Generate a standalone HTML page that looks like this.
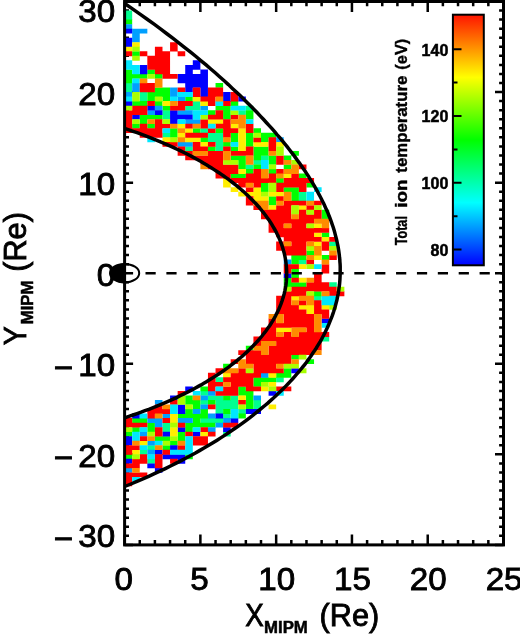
<!DOCTYPE html>
<html><head><meta charset="utf-8"><title>Total ion temperature map</title>
<style>
html,body{margin:0;padding:0;background:#fff;}
body{width:520px;height:635px;overflow:hidden;}
svg{display:block;}
text{font-family:"Liberation Sans","DejaVu Sans",sans-serif;fill:#000;}
.ax{font-size:30.7px;stroke:#000;stroke-width:0.85px;}
.sub{font-size:16.8px;font-weight:bold;stroke:#000;stroke-width:0.5px;}
.cbl{font-size:16px;font-weight:bold;stroke:#000;stroke-width:0.5px;}
.cbt{font-size:16.5px;font-weight:bold;stroke:#000;stroke-width:0.4px;}
</style></head><body>
<svg width="520" height="635" viewBox="0 0 520 635">
<defs>
<linearGradient id="cb" x1="0" y1="0" x2="0" y2="1">
<stop offset="0" stop-color="#ff1400"/>
<stop offset="0.25" stop-color="#ffff00"/>
<stop offset="0.5" stop-color="#00ff00"/>
<stop offset="0.75" stop-color="#00ffff"/>
<stop offset="1" stop-color="#0000ff"/>
</linearGradient>
<clipPath id="pc"><rect x="124.6" y="1.5" width="378.9" height="543.4"/></clipPath>
</defs>
<rect width="520" height="635" fill="#fff"/>

<path d="M124.60 544.90v-10.50M124.60 1.50v10.50M139.76 544.90v-4.80M139.76 1.50v4.80M154.91 544.90v-4.80M154.91 1.50v4.80M170.07 544.90v-4.80M170.07 1.50v4.80M185.22 544.90v-4.80M185.22 1.50v4.80M200.38 544.90v-10.50M200.38 1.50v10.50M215.54 544.90v-4.80M215.54 1.50v4.80M230.69 544.90v-4.80M230.69 1.50v4.80M245.85 544.90v-4.80M245.85 1.50v4.80M261.00 544.90v-4.80M261.00 1.50v4.80M276.16 544.90v-10.50M276.16 1.50v10.50M291.32 544.90v-4.80M291.32 1.50v4.80M306.47 544.90v-4.80M306.47 1.50v4.80M321.63 544.90v-4.80M321.63 1.50v4.80M336.78 544.90v-4.80M336.78 1.50v4.80M351.94 544.90v-10.50M351.94 1.50v10.50M367.10 544.90v-4.80M367.10 1.50v4.80M382.25 544.90v-4.80M382.25 1.50v4.80M397.41 544.90v-4.80M397.41 1.50v4.80M412.56 544.90v-4.80M412.56 1.50v4.80M427.72 544.90v-10.50M427.72 1.50v10.50M442.88 544.90v-4.80M442.88 1.50v4.80M458.03 544.90v-4.80M458.03 1.50v4.80M473.19 544.90v-4.80M473.19 1.50v4.80M488.34 544.90v-4.80M488.34 1.50v4.80M503.50 544.90v-10.50M503.50 1.50v10.50M124.60 544.90h8.50M503.50 544.90h-8.50M124.60 535.84h4.40M503.50 535.84h-4.40M124.60 526.79h4.40M503.50 526.79h-4.40M124.60 517.73h4.40M503.50 517.73h-4.40M124.60 508.67h4.40M503.50 508.67h-4.40M124.60 499.62h4.40M503.50 499.62h-4.40M124.60 490.56h4.40M503.50 490.56h-4.40M124.60 481.50h4.40M503.50 481.50h-4.40M124.60 472.45h4.40M503.50 472.45h-4.40M124.60 463.39h4.40M503.50 463.39h-4.40M124.60 454.33h8.50M503.50 454.33h-8.50M124.60 445.28h4.40M503.50 445.28h-4.40M124.60 436.22h4.40M503.50 436.22h-4.40M124.60 427.16h4.40M503.50 427.16h-4.40M124.60 418.11h4.40M503.50 418.11h-4.40M124.60 409.05h4.40M503.50 409.05h-4.40M124.60 399.99h4.40M503.50 399.99h-4.40M124.60 390.94h4.40M503.50 390.94h-4.40M124.60 381.88h4.40M503.50 381.88h-4.40M124.60 372.82h4.40M503.50 372.82h-4.40M124.60 363.77h8.50M503.50 363.77h-8.50M124.60 354.71h4.40M503.50 354.71h-4.40M124.60 345.65h4.40M503.50 345.65h-4.40M124.60 336.60h4.40M503.50 336.60h-4.40M124.60 327.54h4.40M503.50 327.54h-4.40M124.60 318.48h4.40M503.50 318.48h-4.40M124.60 309.43h4.40M503.50 309.43h-4.40M124.60 300.37h4.40M503.50 300.37h-4.40M124.60 291.31h4.40M503.50 291.31h-4.40M124.60 282.26h4.40M503.50 282.26h-4.40M124.60 273.20h8.50M503.50 273.20h-8.50M124.60 264.14h4.40M503.50 264.14h-4.40M124.60 255.09h4.40M503.50 255.09h-4.40M124.60 246.03h4.40M503.50 246.03h-4.40M124.60 236.97h4.40M503.50 236.97h-4.40M124.60 227.92h4.40M503.50 227.92h-4.40M124.60 218.86h4.40M503.50 218.86h-4.40M124.60 209.80h4.40M503.50 209.80h-4.40M124.60 200.75h4.40M503.50 200.75h-4.40M124.60 191.69h4.40M503.50 191.69h-4.40M124.60 182.63h8.50M503.50 182.63h-8.50M124.60 173.58h4.40M503.50 173.58h-4.40M124.60 164.52h4.40M503.50 164.52h-4.40M124.60 155.46h4.40M503.50 155.46h-4.40M124.60 146.41h4.40M503.50 146.41h-4.40M124.60 137.35h4.40M503.50 137.35h-4.40M124.60 128.29h4.40M503.50 128.29h-4.40M124.60 119.24h4.40M503.50 119.24h-4.40M124.60 110.18h4.40M503.50 110.18h-4.40M124.60 101.12h4.40M503.50 101.12h-4.40M124.60 92.07h8.50M503.50 92.07h-8.50M124.60 83.01h4.40M503.50 83.01h-4.40M124.60 73.95h4.40M503.50 73.95h-4.40M124.60 64.90h4.40M503.50 64.90h-4.40M124.60 55.84h4.40M503.50 55.84h-4.40M124.60 46.78h4.40M503.50 46.78h-4.40M124.60 37.73h4.40M503.50 37.73h-4.40M124.60 28.67h4.40M503.50 28.67h-4.40M124.60 19.61h4.40M503.50 19.61h-4.40M124.60 10.56h4.40M503.50 10.56h-4.40M124.60 1.50h8.50M503.50 1.50h-8.50" stroke="#000" stroke-width="2.5" fill="none"/>
<g id="cells">
<path fill="#00ff90" d="M124.60 10.56h7.58v4.83h-7.58zM124.60 15.09h7.58v4.83h-7.58zM124.60 83.01h7.58v4.83h-7.58zM124.60 87.54h7.58v4.83h-7.58zM139.76 92.07h7.58v4.83h-7.58zM139.76 96.59h7.58v4.83h-7.58zM192.80 101.12h7.58v4.83h-7.58zM185.22 105.65h15.16v4.83h-15.16zM245.85 105.65h7.58v4.83h-7.58zM162.49 110.18h7.58v4.83h-7.58zM238.27 110.18h7.58v4.83h-7.58zM162.49 114.71h7.58v4.83h-7.58zM200.38 128.29h7.58v4.83h-7.58zM162.49 132.82h7.58v4.83h-7.58zM207.96 132.82h15.16v4.83h-15.16zM207.96 137.35h15.16v4.83h-15.16zM215.54 141.88h7.58v4.83h-7.58zM185.22 146.41h7.58v4.83h-7.58zM215.54 146.41h7.58v4.83h-7.58zM261.00 155.46h7.58v4.83h-7.58zM253.43 159.99h7.58v4.83h-7.58zM245.85 164.52h7.58v4.83h-7.58zM298.89 191.69h7.58v4.83h-7.58zM298.89 196.22h7.58v4.83h-7.58zM329.21 241.50h7.58v4.83h-7.58zM298.89 259.62h7.58v4.83h-7.58zM329.21 282.26h7.58v4.83h-7.58zM314.05 295.84h7.58v4.83h-7.58zM321.63 336.60h7.58v4.83h-7.58zM215.54 377.35h7.58v4.83h-7.58zM276.16 377.35h7.58v4.83h-7.58zM200.38 390.94h7.58v4.83h-7.58zM207.96 395.46h15.16v4.83h-15.16zM230.69 395.46h7.58v4.83h-7.58zM200.38 399.99h7.58v4.83h-7.58zM215.54 399.99h22.73v4.83h-22.73zM253.43 399.99h7.58v4.83h-7.58zM215.54 404.52h22.73v4.83h-22.73zM253.43 404.52h7.58v4.83h-7.58zM215.54 409.05h7.58v4.83h-7.58zM238.27 409.05h7.58v4.83h-7.58zM223.11 413.58h7.58v4.83h-7.58zM200.38 418.11h22.73v4.83h-22.73zM162.49 422.63h7.58v4.83h-7.58zM162.49 427.16h7.58v4.83h-7.58zM223.11 431.69h7.58v4.83h-7.58zM147.33 445.28h7.58v4.83h-7.58zM139.76 449.81h7.58v4.83h-7.58zM147.33 458.86h7.58v4.83h-7.58z"/>
<path fill="#00ff00" d="M124.60 19.61h7.58v4.83h-7.58zM132.18 51.31h7.58v4.83h-7.58zM124.60 69.42h7.58v4.83h-7.58zM147.33 69.42h7.58v4.83h-7.58zM124.60 73.95h22.73v4.83h-22.73zM154.91 73.95h7.58v4.83h-7.58zM124.60 78.48h7.58v4.83h-7.58zM215.54 83.01h7.58v4.83h-7.58zM154.91 87.54h15.16v4.83h-15.16zM147.33 92.07h22.73v4.83h-22.73zM147.33 96.59h7.58v4.83h-7.58zM162.49 96.59h7.58v4.83h-7.58zM185.22 96.59h7.58v4.83h-7.58zM132.18 101.12h15.16v4.83h-15.16zM154.91 101.12h7.58v4.83h-7.58zM230.69 101.12h7.58v4.83h-7.58zM162.49 105.65h7.58v4.83h-7.58zM215.54 105.65h15.16v4.83h-15.16zM207.96 110.18h7.58v4.83h-7.58zM223.11 110.18h7.58v4.83h-7.58zM245.85 110.18h7.58v4.83h-7.58zM139.76 114.71h22.73v4.83h-22.73zM223.11 114.71h7.58v4.83h-7.58zM245.85 114.71h7.58v4.83h-7.58zM139.76 119.24h7.58v4.83h-7.58zM132.18 123.77h7.58v4.83h-7.58zM147.33 123.77h7.58v4.83h-7.58zM170.07 128.29h7.58v4.83h-7.58zM192.80 128.29h7.58v4.83h-7.58zM215.54 128.29h7.58v4.83h-7.58zM253.43 128.29h7.58v4.83h-7.58zM170.07 132.82h7.58v4.83h-7.58zM230.69 132.82h7.58v4.83h-7.58zM245.85 132.82h7.58v4.83h-7.58zM261.00 132.82h15.16v4.83h-15.16zM200.38 137.35h7.58v4.83h-7.58zM230.69 137.35h7.58v4.83h-7.58zM245.85 137.35h7.58v4.83h-7.58zM261.00 137.35h7.58v4.83h-7.58zM223.11 141.88h7.58v4.83h-7.58zM245.85 141.88h7.58v4.83h-7.58zM207.96 146.41h7.58v4.83h-7.58zM230.69 146.41h7.58v4.83h-7.58zM253.43 146.41h15.16v4.83h-15.16zM253.43 150.94h15.16v4.83h-15.16zM291.32 150.94h7.58v4.83h-7.58zM230.69 155.46h15.16v4.83h-15.16zM253.43 155.46h7.58v4.83h-7.58zM268.58 155.46h7.58v4.83h-7.58zM283.74 155.46h7.58v4.83h-7.58zM238.27 159.99h7.58v4.83h-7.58zM268.58 159.99h7.58v4.83h-7.58zM238.27 164.52h7.58v4.83h-7.58zM253.43 164.52h7.58v4.83h-7.58zM283.74 164.52h7.58v4.83h-7.58zM245.85 169.05h7.58v4.83h-7.58zM268.58 169.05h7.58v4.83h-7.58zM230.69 173.58h15.16v4.83h-15.16zM298.89 173.58h7.58v4.83h-7.58zM276.16 178.10h7.58v4.83h-7.58zM261.00 182.63h7.58v4.83h-7.58zM306.47 182.63h7.58v4.83h-7.58zM261.00 187.16h7.58v4.83h-7.58zM283.74 187.16h15.16v4.83h-15.16zM291.32 191.69h7.58v4.83h-7.58zM268.58 196.22h7.58v4.83h-7.58zM291.32 196.22h7.58v4.83h-7.58zM268.58 200.75h7.58v4.83h-7.58zM321.63 209.80h7.58v4.83h-7.58zM321.63 214.33h7.58v4.83h-7.58zM321.63 232.44h7.58v4.83h-7.58zM306.47 250.56h7.58v4.83h-7.58zM291.32 255.09h15.16v4.83h-15.16zM321.63 255.09h7.58v4.83h-7.58zM291.32 259.62h7.58v4.83h-7.58zM291.32 268.67h7.58v4.83h-7.58zM291.32 273.20h7.58v4.83h-7.58zM283.74 277.73h7.58v4.83h-7.58zM283.74 282.26h22.73v4.83h-22.73zM314.05 291.31h7.58v4.83h-7.58zM245.85 345.65h7.58v4.83h-7.58zM291.32 354.71h7.58v4.83h-7.58zM306.47 359.24h7.58v4.83h-7.58zM223.11 363.77h7.58v4.83h-7.58zM283.74 368.30h7.58v4.83h-7.58zM276.16 372.82h15.16v4.83h-15.16zM253.43 377.35h22.73v4.83h-22.73zM253.43 381.88h7.58v4.83h-7.58zM200.38 386.41h7.58v4.83h-7.58zM238.27 386.41h7.58v4.83h-7.58zM238.27 390.94h15.16v4.83h-15.16zM185.22 395.46h7.58v4.83h-7.58zM223.11 395.46h7.58v4.83h-7.58zM245.85 395.46h7.58v4.83h-7.58zM185.22 399.99h15.16v4.83h-15.16zM207.96 399.99h7.58v4.83h-7.58zM245.85 399.99h7.58v4.83h-7.58zM192.80 404.52h7.58v4.83h-7.58zM245.85 404.52h7.58v4.83h-7.58zM185.22 409.05h7.58v4.83h-7.58zM200.38 409.05h7.58v4.83h-7.58zM223.11 409.05h7.58v4.83h-7.58zM177.65 413.58h30.31v4.83h-30.31zM238.27 413.58h7.58v4.83h-7.58zM132.18 418.11h15.16v4.83h-15.16zM192.80 418.11h7.58v4.83h-7.58zM147.33 422.63h7.58v4.83h-7.58zM185.22 422.63h30.31v4.83h-30.31zM132.18 427.16h7.58v4.83h-7.58zM147.33 427.16h7.58v4.83h-7.58zM185.22 427.16h7.58v4.83h-7.58zM124.60 431.69h7.58v4.83h-7.58zM177.65 431.69h7.58v4.83h-7.58zM154.91 436.22h15.16v4.83h-15.16zM177.65 436.22h7.58v4.83h-7.58zM170.07 440.75h7.58v4.83h-7.58zM162.49 445.28h7.58v4.83h-7.58zM124.60 454.33h7.58v4.83h-7.58zM185.22 454.33h7.58v4.83h-7.58z"/>
<path fill="#00a0ff" d="M124.60 24.14h7.58v4.83h-7.58zM132.18 28.67h15.16v4.83h-15.16zM132.18 33.20h7.58v4.83h-7.58zM132.18 37.73h7.58v4.83h-7.58zM132.18 83.01h7.58v4.83h-7.58zM132.18 87.54h7.58v4.83h-7.58zM170.07 87.54h7.58v4.83h-7.58zM124.60 92.07h7.58v4.83h-7.58zM170.07 92.07h7.58v4.83h-7.58zM177.65 96.59h7.58v4.83h-7.58zM154.91 105.65h7.58v4.83h-7.58zM200.38 105.65h7.58v4.83h-7.58zM147.33 110.18h7.58v4.83h-7.58zM177.65 110.18h15.16v4.83h-15.16zM185.22 119.24h15.16v4.83h-15.16zM276.16 137.35h7.58v4.83h-7.58zM177.65 141.88h15.16v4.83h-15.16zM283.74 259.62h7.58v4.83h-7.58zM261.00 372.82h7.58v4.83h-7.58zM207.96 390.94h7.58v4.83h-7.58zM200.38 395.46h7.58v4.83h-7.58zM253.43 395.46h7.58v4.83h-7.58zM154.91 399.99h7.58v4.83h-7.58zM200.38 404.52h7.58v4.83h-7.58zM192.80 409.05h7.58v4.83h-7.58zM162.49 413.58h7.58v4.83h-7.58zM207.96 413.58h7.58v4.83h-7.58zM147.33 418.11h15.16v4.83h-15.16zM177.65 418.11h15.16v4.83h-15.16zM223.11 418.11h7.58v4.83h-7.58zM154.91 422.63h7.58v4.83h-7.58zM215.54 422.63h7.58v4.83h-7.58zM207.96 427.16h7.58v4.83h-7.58zM139.76 431.69h7.58v4.83h-7.58zM147.33 440.75h7.58v4.83h-7.58zM147.33 449.81h7.58v4.83h-7.58zM124.60 467.92h7.58v4.83h-7.58z"/>
<path fill="#0000ff" d="M124.60 28.67h7.58v4.83h-7.58zM124.60 37.73h7.58v4.83h-7.58zM124.60 42.26h7.58v4.83h-7.58zM192.80 60.37h7.58v4.83h-7.58zM139.76 64.90h7.58v4.83h-7.58zM185.22 64.90h15.16v4.83h-15.16zM139.76 69.42h7.58v4.83h-7.58zM185.22 69.42h7.58v4.83h-7.58zM200.38 69.42h7.58v4.83h-7.58zM177.65 73.95h30.31v4.83h-30.31zM177.65 78.48h30.31v4.83h-30.31zM185.22 83.01h22.73v4.83h-22.73zM185.22 87.54h7.58v4.83h-7.58zM200.38 87.54h7.58v4.83h-7.58zM200.38 92.07h7.58v4.83h-7.58zM223.11 92.07h7.58v4.83h-7.58zM223.11 96.59h7.58v4.83h-7.58zM238.27 96.59h7.58v4.83h-7.58zM124.60 101.12h7.58v4.83h-7.58zM147.33 105.65h7.58v4.83h-7.58zM154.91 110.18h7.58v4.83h-7.58zM170.07 110.18h7.58v4.83h-7.58zM132.18 114.71h7.58v4.83h-7.58zM170.07 114.71h22.73v4.83h-22.73zM170.07 119.24h7.58v4.83h-7.58zM283.74 273.20h7.58v4.83h-7.58zM321.63 318.48h7.58v4.83h-7.58zM291.32 368.30h7.58v4.83h-7.58zM185.22 386.41h7.58v4.83h-7.58zM268.58 390.94h7.58v4.83h-7.58zM170.07 395.46h7.58v4.83h-7.58zM177.65 404.52h7.58v4.83h-7.58zM177.65 409.05h7.58v4.83h-7.58zM245.85 409.05h15.16v4.83h-15.16zM132.18 413.58h7.58v4.83h-7.58zM215.54 413.58h7.58v4.83h-7.58zM230.69 418.11h7.58v4.83h-7.58zM177.65 427.16h7.58v4.83h-7.58zM223.11 427.16h7.58v4.83h-7.58zM162.49 431.69h7.58v4.83h-7.58zM192.80 431.69h7.58v4.83h-7.58zM124.60 436.22h7.58v4.83h-7.58zM124.60 440.75h7.58v4.83h-7.58zM170.07 445.28h7.58v4.83h-7.58zM154.91 449.81h7.58v4.83h-7.58zM162.49 454.33h22.73v4.83h-22.73zM124.60 458.86h7.58v4.83h-7.58zM177.65 458.86h7.58v4.83h-7.58zM147.33 463.39h7.58v4.83h-7.58zM154.91 467.92h7.58v4.83h-7.58z"/>
<path fill="#ffee00" d="M132.18 42.26h7.58v4.83h-7.58zM124.60 46.78h7.58v4.83h-7.58zM192.80 96.59h7.58v4.83h-7.58zM162.49 101.12h7.58v4.83h-7.58zM200.38 101.12h7.58v4.83h-7.58zM207.96 119.24h15.16v4.83h-15.16zM177.65 123.77h7.58v4.83h-7.58zM230.69 123.77h7.58v4.83h-7.58zM185.22 128.29h7.58v4.83h-7.58zM238.27 128.29h7.58v4.83h-7.58zM177.65 132.82h7.58v4.83h-7.58zM238.27 132.82h7.58v4.83h-7.58zM162.49 137.35h7.58v4.83h-7.58zM185.22 137.35h15.16v4.83h-15.16zM238.27 137.35h7.58v4.83h-7.58zM200.38 141.88h7.58v4.83h-7.58zM238.27 141.88h7.58v4.83h-7.58zM253.43 141.88h15.16v4.83h-15.16zM276.16 141.88h7.58v4.83h-7.58zM238.27 146.41h7.58v4.83h-7.58zM238.27 169.05h7.58v4.83h-7.58zM283.74 173.58h7.58v4.83h-7.58zM223.11 178.10h7.58v4.83h-7.58zM223.11 182.63h7.58v4.83h-7.58zM230.69 187.16h7.58v4.83h-7.58zM253.43 187.16h7.58v4.83h-7.58zM238.27 191.69h22.73v4.83h-22.73zM268.58 191.69h15.16v4.83h-15.16zM253.43 196.22h15.16v4.83h-15.16zM268.58 205.28h7.58v4.83h-7.58zM298.89 205.28h7.58v4.83h-7.58zM314.05 223.39h7.58v4.83h-7.58zM314.05 232.44h7.58v4.83h-7.58zM321.63 236.97h7.58v4.83h-7.58zM314.05 241.50h7.58v4.83h-7.58zM314.05 255.09h7.58v4.83h-7.58zM298.89 264.14h7.58v4.83h-7.58zM298.89 277.73h7.58v4.83h-7.58zM291.32 295.84h7.58v4.83h-7.58zM298.89 304.90h15.16v4.83h-15.16zM321.63 304.90h7.58v4.83h-7.58zM306.47 309.43h7.58v4.83h-7.58zM276.16 327.54h15.16v4.83h-15.16zM223.11 372.82h7.58v4.83h-7.58zM268.58 372.82h7.58v4.83h-7.58zM268.58 381.88h7.58v4.83h-7.58zM261.00 386.41h7.58v4.83h-7.58zM238.27 395.46h7.58v4.83h-7.58zM268.58 404.52h7.58v4.83h-7.58zM170.07 413.58h7.58v4.83h-7.58zM170.07 418.11h7.58v4.83h-7.58zM170.07 427.16h7.58v4.83h-7.58zM170.07 431.69h7.58v4.83h-7.58zM200.38 431.69h7.58v4.83h-7.58zM139.76 440.75h7.58v4.83h-7.58zM132.18 449.81h7.58v4.83h-7.58z"/>
<path fill="#ff0000" d="M170.07 42.26h7.58v4.83h-7.58zM154.91 46.78h7.58v4.83h-7.58zM170.07 46.78h7.58v4.83h-7.58zM124.60 51.31h7.58v4.83h-7.58zM139.76 51.31h7.58v4.83h-7.58zM154.91 51.31h15.16v4.83h-15.16zM177.65 51.31h7.58v4.83h-7.58zM147.33 55.84h22.73v4.83h-22.73zM147.33 60.37h22.73v4.83h-22.73zM147.33 64.90h22.73v4.83h-22.73zM154.91 69.42h15.16v4.83h-15.16zM162.49 73.95h15.16v4.83h-15.16zM139.76 83.01h15.16v4.83h-15.16zM139.76 87.54h15.16v4.83h-15.16zM177.65 87.54h7.58v4.83h-7.58zM192.80 87.54h7.58v4.83h-7.58zM207.96 87.54h15.16v4.83h-15.16zM192.80 92.07h7.58v4.83h-7.58zM207.96 92.07h15.16v4.83h-15.16zM230.69 92.07h7.58v4.83h-7.58zM200.38 96.59h15.16v4.83h-15.16zM230.69 96.59h7.58v4.83h-7.58zM147.33 101.12h7.58v4.83h-7.58zM177.65 101.12h15.16v4.83h-15.16zM207.96 101.12h7.58v4.83h-7.58zM223.11 101.12h7.58v4.83h-7.58zM132.18 105.65h15.16v4.83h-15.16zM170.07 105.65h15.16v4.83h-15.16zM124.60 110.18h22.73v4.83h-22.73zM215.54 110.18h7.58v4.83h-7.58zM124.60 114.71h7.58v4.83h-7.58zM207.96 114.71h15.16v4.83h-15.16zM230.69 114.71h7.58v4.83h-7.58zM124.60 119.24h7.58v4.83h-7.58zM154.91 119.24h7.58v4.83h-7.58zM200.38 119.24h7.58v4.83h-7.58zM223.11 119.24h7.58v4.83h-7.58zM124.60 123.77h7.58v4.83h-7.58zM139.76 123.77h7.58v4.83h-7.58zM154.91 123.77h15.16v4.83h-15.16zM185.22 123.77h7.58v4.83h-7.58zM200.38 123.77h7.58v4.83h-7.58zM215.54 123.77h15.16v4.83h-15.16zM245.85 123.77h7.58v4.83h-7.58zM124.60 128.29h37.89v4.83h-37.89zM207.96 128.29h7.58v4.83h-7.58zM223.11 128.29h15.16v4.83h-15.16zM245.85 128.29h7.58v4.83h-7.58zM139.76 132.82h22.73v4.83h-22.73zM185.22 132.82h22.73v4.83h-22.73zM223.11 132.82h7.58v4.83h-7.58zM253.43 137.35h7.58v4.83h-7.58zM268.58 137.35h7.58v4.83h-7.58zM162.49 141.88h15.16v4.83h-15.16zM192.80 141.88h7.58v4.83h-7.58zM207.96 141.88h7.58v4.83h-7.58zM268.58 141.88h7.58v4.83h-7.58zM177.65 146.41h7.58v4.83h-7.58zM192.80 146.41h15.16v4.83h-15.16zM223.11 146.41h7.58v4.83h-7.58zM245.85 146.41h7.58v4.83h-7.58zM268.58 146.41h7.58v4.83h-7.58zM177.65 150.94h15.16v4.83h-15.16zM207.96 150.94h15.16v4.83h-15.16zM230.69 150.94h22.73v4.83h-22.73zM185.22 155.46h37.89v4.83h-37.89zM276.16 155.46h7.58v4.83h-7.58zM200.38 159.99h22.73v4.83h-22.73zM276.16 159.99h7.58v4.83h-7.58zM207.96 164.52h30.31v4.83h-30.31zM298.89 164.52h7.58v4.83h-7.58zM215.54 169.05h22.73v4.83h-22.73zM253.43 169.05h7.58v4.83h-7.58zM276.16 169.05h7.58v4.83h-7.58zM215.54 173.58h15.16v4.83h-15.16zM245.85 173.58h15.16v4.83h-15.16zM268.58 173.58h7.58v4.83h-7.58zM291.32 173.58h7.58v4.83h-7.58zM230.69 178.10h45.47v4.83h-45.47zM283.74 178.10h30.31v4.83h-30.31zM238.27 182.63h7.58v4.83h-7.58zM253.43 182.63h7.58v4.83h-7.58zM276.16 182.63h30.31v4.83h-30.31zM245.85 187.16h7.58v4.83h-7.58zM276.16 187.16h7.58v4.83h-7.58zM298.89 187.16h7.58v4.83h-7.58zM245.85 196.22h7.58v4.83h-7.58zM276.16 196.22h7.58v4.83h-7.58zM245.85 200.75h7.58v4.83h-7.58zM283.74 200.75h22.73v4.83h-22.73zM314.05 200.75h7.58v4.83h-7.58zM253.43 205.28h7.58v4.83h-7.58zM276.16 205.28h15.16v4.83h-15.16zM306.47 205.28h7.58v4.83h-7.58zM261.00 209.80h30.31v4.83h-30.31zM298.89 209.80h7.58v4.83h-7.58zM314.05 209.80h7.58v4.83h-7.58zM261.00 214.33h30.31v4.83h-30.31zM298.89 214.33h22.73v4.83h-22.73zM268.58 218.86h45.47v4.83h-45.47zM268.58 223.39h15.16v4.83h-15.16zM291.32 223.39h15.16v4.83h-15.16zM268.58 227.92h60.62v4.83h-60.62zM276.16 232.44h37.89v4.83h-37.89zM283.74 236.97h37.89v4.83h-37.89zM329.21 236.97h7.58v4.83h-7.58zM276.16 241.50h7.58v4.83h-7.58zM291.32 241.50h15.16v4.83h-15.16zM321.63 241.50h7.58v4.83h-7.58zM276.16 246.03h30.31v4.83h-30.31zM321.63 246.03h7.58v4.83h-7.58zM283.74 250.56h22.73v4.83h-22.73zM329.21 255.09h7.58v4.83h-7.58zM306.47 259.62h7.58v4.83h-7.58zM283.74 264.14h15.16v4.83h-15.16zM321.63 264.14h7.58v4.83h-7.58zM283.74 268.67h7.58v4.83h-7.58zM321.63 268.67h7.58v4.83h-7.58zM314.05 273.20h7.58v4.83h-7.58zM291.32 277.73h7.58v4.83h-7.58zM314.05 277.73h7.58v4.83h-7.58zM306.47 282.26h22.73v4.83h-22.73zM291.32 286.79h45.47v4.83h-45.47zM283.74 291.31h22.73v4.83h-22.73zM329.21 291.31h15.16v4.83h-15.16zM276.16 295.84h15.16v4.83h-15.16zM276.16 300.37h15.16v4.83h-15.16zM298.89 300.37h7.58v4.83h-7.58zM314.05 300.37h7.58v4.83h-7.58zM276.16 304.90h22.73v4.83h-22.73zM314.05 304.90h7.58v4.83h-7.58zM276.16 309.43h30.31v4.83h-30.31zM314.05 309.43h15.16v4.83h-15.16zM283.74 313.95h30.31v4.83h-30.31zM321.63 313.95h7.58v4.83h-7.58zM268.58 318.48h7.58v4.83h-7.58zM283.74 318.48h30.31v4.83h-30.31zM268.58 323.01h45.47v4.83h-45.47zM261.00 327.54h15.16v4.83h-15.16zM306.47 327.54h7.58v4.83h-7.58zM261.00 332.07h15.16v4.83h-15.16zM283.74 332.07h7.58v4.83h-7.58zM298.89 332.07h30.31v4.83h-30.31zM253.43 336.60h68.20v4.83h-68.20zM253.43 341.12h7.58v4.83h-7.58zM276.16 341.12h45.47v4.83h-45.47zM268.58 345.65h53.05v4.83h-53.05zM238.27 350.18h22.73v4.83h-22.73zM268.58 350.18h45.47v4.83h-45.47zM245.85 354.71h45.47v4.83h-45.47zM230.69 359.24h7.58v4.83h-7.58zM245.85 359.24h45.47v4.83h-45.47zM253.43 363.77h22.73v4.83h-22.73zM215.54 368.30h7.58v4.83h-7.58zM238.27 368.30h7.58v4.83h-7.58zM253.43 368.30h30.31v4.83h-30.31zM207.96 372.82h7.58v4.83h-7.58zM230.69 372.82h30.31v4.83h-30.31zM207.96 377.35h7.58v4.83h-7.58zM223.11 377.35h30.31v4.83h-30.31zM207.96 381.88h15.16v4.83h-15.16zM230.69 381.88h22.73v4.83h-22.73zM207.96 386.41h7.58v4.83h-7.58zM223.11 386.41h15.16v4.83h-15.16zM245.85 386.41h15.16v4.83h-15.16zM276.16 386.41h15.16v4.83h-15.16zM177.65 390.94h7.58v4.83h-7.58zM215.54 390.94h22.73v4.83h-22.73zM170.07 399.99h7.58v4.83h-7.58zM238.27 399.99h7.58v4.83h-7.58zM154.91 404.52h7.58v4.83h-7.58zM207.96 404.52h7.58v4.83h-7.58zM147.33 409.05h22.73v4.83h-22.73zM147.33 413.58h7.58v4.83h-7.58zM124.60 418.11h7.58v4.83h-7.58zM162.49 418.11h7.58v4.83h-7.58zM124.60 422.63h22.73v4.83h-22.73zM177.65 422.63h7.58v4.83h-7.58zM223.11 422.63h15.16v4.83h-15.16zM154.91 427.16h7.58v4.83h-7.58zM200.38 427.16h7.58v4.83h-7.58zM154.91 431.69h7.58v4.83h-7.58zM185.22 431.69h7.58v4.83h-7.58zM207.96 431.69h7.58v4.83h-7.58zM139.76 436.22h7.58v4.83h-7.58zM192.80 436.22h15.16v4.83h-15.16zM192.80 440.75h15.16v4.83h-15.16zM124.60 445.28h15.16v4.83h-15.16zM177.65 445.28h7.58v4.83h-7.58zM124.60 449.81h7.58v4.83h-7.58zM162.49 449.81h7.58v4.83h-7.58zM139.76 454.33h7.58v4.83h-7.58zM154.91 454.33h7.58v4.83h-7.58zM132.18 458.86h15.16v4.83h-15.16zM154.91 458.86h7.58v4.83h-7.58zM170.07 458.86h7.58v4.83h-7.58zM124.60 463.39h15.16v4.83h-15.16zM154.91 463.39h7.58v4.83h-7.58zM124.60 472.45h22.73v4.83h-22.73zM124.60 476.98h7.58v4.83h-7.58zM124.60 481.50h7.58v4.83h-7.58z"/>
<path fill="#a8ff00" d="M132.18 46.78h7.58v4.83h-7.58zM132.18 55.84h7.58v4.83h-7.58zM147.33 73.95h7.58v4.83h-7.58zM132.18 92.07h7.58v4.83h-7.58zM132.18 96.59h7.58v4.83h-7.58zM154.91 96.59h7.58v4.83h-7.58zM124.60 105.65h7.58v4.83h-7.58zM230.69 110.18h7.58v4.83h-7.58zM200.38 114.71h7.58v4.83h-7.58zM132.18 119.24h7.58v4.83h-7.58zM162.49 119.24h7.58v4.83h-7.58zM253.43 132.82h7.58v4.83h-7.58zM170.07 137.35h7.58v4.83h-7.58zM276.16 146.41h7.58v4.83h-7.58zM276.16 150.94h7.58v4.83h-7.58zM223.11 159.99h15.16v4.83h-15.16zM291.32 159.99h7.58v4.83h-7.58zM268.58 164.52h7.58v4.83h-7.58zM268.58 182.63h7.58v4.83h-7.58zM268.58 187.16h7.58v4.83h-7.58zM261.00 191.69h7.58v4.83h-7.58zM291.32 205.28h7.58v4.83h-7.58zM314.05 205.28h7.58v4.83h-7.58zM291.32 209.80h7.58v4.83h-7.58zM306.47 209.80h7.58v4.83h-7.58zM306.47 223.39h7.58v4.83h-7.58zM306.47 246.03h7.58v4.83h-7.58zM329.21 246.03h7.58v4.83h-7.58zM306.47 264.14h7.58v4.83h-7.58zM283.74 286.79h7.58v4.83h-7.58zM336.78 286.79h7.58v4.83h-7.58zM306.47 291.31h7.58v4.83h-7.58zM329.21 304.90h7.58v4.83h-7.58zM298.89 354.71h7.58v4.83h-7.58zM283.74 363.77h15.16v4.83h-15.16zM245.85 368.30h7.58v4.83h-7.58zM298.89 368.30h7.58v4.83h-7.58zM261.00 381.88h7.58v4.83h-7.58zM268.58 386.41h7.58v4.83h-7.58zM177.65 395.46h7.58v4.83h-7.58zM177.65 399.99h7.58v4.83h-7.58zM185.22 404.52h7.58v4.83h-7.58zM238.27 404.52h7.58v4.83h-7.58zM170.07 422.63h7.58v4.83h-7.58zM124.60 427.16h7.58v4.83h-7.58zM147.33 431.69h7.58v4.83h-7.58zM170.07 436.22h7.58v4.83h-7.58zM162.49 440.75h7.58v4.83h-7.58zM132.18 454.33h7.58v4.83h-7.58z"/>
<path fill="#00e8ff" d="M124.60 60.37h7.58v4.83h-7.58zM124.60 64.90h15.16v4.83h-15.16zM132.18 69.42h7.58v4.83h-7.58zM132.18 78.48h7.58v4.83h-7.58zM177.65 92.07h15.16v4.83h-15.16zM124.60 96.59h7.58v4.83h-7.58zM170.07 96.59h7.58v4.83h-7.58zM215.54 101.12h7.58v4.83h-7.58zM230.69 105.65h15.16v4.83h-15.16zM192.80 110.18h15.16v4.83h-15.16zM192.80 114.71h7.58v4.83h-7.58zM177.65 119.24h7.58v4.83h-7.58zM245.85 119.24h7.58v4.83h-7.58zM207.96 123.77h7.58v4.83h-7.58zM162.49 128.29h7.58v4.83h-7.58zM147.33 137.35h7.58v4.83h-7.58zM230.69 141.88h7.58v4.83h-7.58zM261.00 159.99h7.58v4.83h-7.58zM261.00 164.52h7.58v4.83h-7.58zM314.05 187.16h7.58v4.83h-7.58zM306.47 191.69h7.58v4.83h-7.58zM306.47 196.22h7.58v4.83h-7.58zM314.05 264.14h7.58v4.83h-7.58zM321.63 295.84h15.16v4.83h-15.16zM321.63 300.37h15.16v4.83h-15.16zM321.63 323.01h7.58v4.83h-7.58zM215.54 386.41h7.58v4.83h-7.58zM192.80 390.94h7.58v4.83h-7.58zM276.16 390.94h7.58v4.83h-7.58zM170.07 404.52h7.58v4.83h-7.58zM170.07 409.05h7.58v4.83h-7.58zM230.69 409.05h7.58v4.83h-7.58zM139.76 413.58h7.58v4.83h-7.58zM230.69 413.58h7.58v4.83h-7.58zM139.76 427.16h7.58v4.83h-7.58zM192.80 427.16h7.58v4.83h-7.58zM132.18 431.69h7.58v4.83h-7.58zM132.18 436.22h7.58v4.83h-7.58zM185.22 436.22h7.58v4.83h-7.58zM154.91 440.75h7.58v4.83h-7.58zM185.22 440.75h7.58v4.83h-7.58zM139.76 445.28h7.58v4.83h-7.58zM185.22 445.28h7.58v4.83h-7.58zM170.07 449.81h22.73v4.83h-22.73zM147.33 454.33h7.58v4.83h-7.58zM132.18 476.98h7.58v4.83h-7.58z"/>
<path fill="#ff8c00" d="M139.76 78.48h7.58v4.83h-7.58zM154.91 78.48h7.58v4.83h-7.58zM154.91 83.01h7.58v4.83h-7.58zM215.54 96.59h7.58v4.83h-7.58zM170.07 101.12h7.58v4.83h-7.58zM238.27 114.71h7.58v4.83h-7.58zM147.33 119.24h7.58v4.83h-7.58zM230.69 119.24h15.16v4.83h-15.16zM170.07 123.77h7.58v4.83h-7.58zM192.80 123.77h7.58v4.83h-7.58zM238.27 123.77h7.58v4.83h-7.58zM177.65 128.29h7.58v4.83h-7.58zM177.65 137.35h7.58v4.83h-7.58zM223.11 137.35h7.58v4.83h-7.58zM192.80 150.94h15.16v4.83h-15.16zM223.11 150.94h7.58v4.83h-7.58zM268.58 150.94h7.58v4.83h-7.58zM223.11 155.46h7.58v4.83h-7.58zM245.85 155.46h7.58v4.83h-7.58zM245.85 159.99h7.58v4.83h-7.58zM283.74 159.99h7.58v4.83h-7.58zM200.38 164.52h7.58v4.83h-7.58zM291.32 164.52h7.58v4.83h-7.58zM261.00 169.05h7.58v4.83h-7.58zM283.74 169.05h15.16v4.83h-15.16zM261.00 173.58h7.58v4.83h-7.58zM276.16 173.58h7.58v4.83h-7.58zM245.85 182.63h7.58v4.83h-7.58zM283.74 191.69h7.58v4.83h-7.58zM283.74 196.22h7.58v4.83h-7.58zM253.43 200.75h15.16v4.83h-15.16zM276.16 200.75h7.58v4.83h-7.58zM306.47 200.75h7.58v4.83h-7.58zM261.00 205.28h7.58v4.83h-7.58zM291.32 214.33h7.58v4.83h-7.58zM314.05 218.86h15.16v4.83h-15.16zM283.74 223.39h7.58v4.83h-7.58zM321.63 223.39h7.58v4.83h-7.58zM283.74 241.50h7.58v4.83h-7.58zM306.47 241.50h7.58v4.83h-7.58zM314.05 246.03h7.58v4.83h-7.58zM314.05 250.56h7.58v4.83h-7.58zM329.21 250.56h7.58v4.83h-7.58zM306.47 255.09h7.58v4.83h-7.58zM321.63 259.62h7.58v4.83h-7.58zM306.47 277.73h7.58v4.83h-7.58zM321.63 291.31h7.58v4.83h-7.58zM298.89 295.84h15.16v4.83h-15.16zM291.32 300.37h7.58v4.83h-7.58zM306.47 300.37h7.58v4.83h-7.58zM268.58 313.95h15.16v4.83h-15.16zM314.05 313.95h7.58v4.83h-7.58zM276.16 318.48h7.58v4.83h-7.58zM314.05 318.48h7.58v4.83h-7.58zM314.05 323.01h7.58v4.83h-7.58zM291.32 327.54h15.16v4.83h-15.16zM314.05 327.54h7.58v4.83h-7.58zM276.16 332.07h7.58v4.83h-7.58zM291.32 332.07h7.58v4.83h-7.58zM261.00 341.12h15.16v4.83h-15.16zM253.43 345.65h15.16v4.83h-15.16zM261.00 350.18h7.58v4.83h-7.58zM314.05 350.18h7.58v4.83h-7.58zM238.27 359.24h7.58v4.83h-7.58zM291.32 359.24h7.58v4.83h-7.58zM238.27 363.77h15.16v4.83h-15.16zM276.16 363.77h7.58v4.83h-7.58zM223.11 368.30h15.16v4.83h-15.16zM223.11 381.88h7.58v4.83h-7.58zM192.80 395.46h7.58v4.83h-7.58zM162.49 404.52h7.58v4.83h-7.58zM154.91 413.58h7.58v4.83h-7.58zM147.33 436.22h7.58v4.83h-7.58zM132.18 440.75h7.58v4.83h-7.58zM177.65 440.75h7.58v4.83h-7.58zM154.91 445.28h7.58v4.83h-7.58zM132.18 467.92h7.58v4.83h-7.58z"/>
</g>
<path d="M145.5 273.2H503" stroke="#000" stroke-width="2.6" stroke-dasharray="10.2 10.68" fill="none"/>
<path d="M116.6 -2.0L124.7 3.5L132.5 8.9L140.0 14.1L147.2 19.2L154.1 24.2L160.8 29.1L167.2 34.0L173.4 38.7L179.4 43.3L185.1 47.8L190.6 52.2L196.0 56.5L201.1 60.8L206.1 64.9L210.8 69.0L215.5 73.0L219.9 77.0L224.2 80.8L228.4 84.6L232.4 88.4L236.3 92.0L240.1 95.6L243.8 99.2L247.3 102.7L250.7 106.1L254.1 109.5L257.3 112.8L260.4 116.1L263.4 119.3L266.3 122.5L269.2 125.6L272.0 128.7L274.6 131.7L277.2 134.8L279.8 137.7L282.2 140.7L284.6 143.6L286.9 146.4L289.1 149.3L291.3 152.1L293.5 154.9L295.5 157.6L297.5 160.4L299.5 163.1L301.3 165.7L303.2 168.4L305.0 171.0L306.7 173.6L308.4 176.2L310.0 178.8L311.6 181.3L313.1 183.9L314.6 186.4L316.0 188.9L317.4 191.4L318.7 193.8L320.0 196.3L321.3 198.7L322.5 201.2L323.7 203.6L324.8 206.0L325.9 208.4L327.0 210.8L328.0 213.2L328.9 215.5L329.9 217.9L330.8 220.3L331.6 222.6L332.4 225.0L333.2 227.3L333.9 229.6L334.6 231.9L335.2 234.3L335.8 236.6L336.4 238.9L336.9 241.2L337.4 243.5L337.9 245.8L338.3 248.1L338.7 250.4L339.0 252.7L339.3 255.0L339.5 257.3L339.8 259.5L339.9 261.8L340.1 264.1L340.2 266.4L340.2 268.7L340.2 270.9L340.2 273.2L340.1 275.5L340.0 277.7L339.9 280.0L339.7 282.3L339.5 284.6L339.2 286.8L338.9 289.1L338.6 291.4L338.2 293.6L337.7 295.9L337.3 298.2L336.8 300.5L336.2 302.7L335.6 305.0L335.0 307.3L334.3 309.6L333.6 311.8L332.8 314.1L332.0 316.4L331.1 318.7L330.2 320.9L329.3 323.2L328.3 325.5L327.3 327.8L326.2 330.1L325.1 332.4L323.9 334.7L322.7 337.0L321.5 339.3L320.2 341.6L318.8 343.9L317.4 346.2L316.0 348.5L314.5 350.8L312.9 353.1L311.3 355.5L309.7 357.8L308.0 360.1L306.3 362.5L304.5 364.8L302.6 367.2L300.7 369.5L298.7 371.9L296.7 374.2L294.6 376.6L292.5 379.0L290.3 381.4L288.1 383.7L285.8 386.1L283.4 388.5L280.9 390.9L278.4 393.3L275.9 395.8L273.2 398.2L270.5 400.6L267.8 403.1L264.9 405.5L262.0 407.9L259.0 410.4L255.9 412.9L252.8 415.3L249.6 417.8L246.3 420.3L242.9 422.8L239.4 425.3L235.9 427.8L232.2 430.3L228.5 432.8L224.6 435.4L220.7 437.9L216.7 440.4L212.5 443.0L208.3 445.5L204.0 448.1L199.5 450.6L195.0 453.2L190.3 455.7L185.6 458.3L180.7 460.9L175.7 463.4L170.5 466.0L165.3 468.6L159.9 471.2L154.4 473.7L148.7 476.3L142.9 478.8L137.0 481.4L130.9 484.0L124.7 486.5L118.3 489.0" stroke="#000" stroke-width="3.5" fill="none" clip-path="url(#pc)"/>
<path d="M120.3 127.0L124.6 128.4L128.9 129.9L133.0 131.3L137.1 132.7L141.1 134.2L145.0 135.6L148.9 137.1L152.6 138.6L156.3 140.1L159.9 141.6L163.5 143.1L167.0 144.6L170.4 146.1L173.7 147.6L177.0 149.2L180.2 150.7L183.4 152.2L186.5 153.8L189.5 155.3L192.5 156.9L195.4 158.5L198.2 160.0L201.0 161.6L203.7 163.2L206.4 164.8L209.1 166.4L211.6 168.0L214.1 169.6L216.6 171.2L219.0 172.8L221.4 174.4L223.7 176.0L226.0 177.6L228.2 179.2L230.4 180.9L232.5 182.5L234.6 184.1L236.6 185.7L238.6 187.4L240.5 189.0L242.4 190.6L244.3 192.3L246.1 193.9L247.8 195.6L249.5 197.2L251.2 198.9L252.8 200.5L254.4 202.2L256.0 203.8L257.5 205.5L259.0 207.2L260.4 208.8L261.8 210.5L263.1 212.2L264.4 213.8L265.7 215.5L266.9 217.2L268.1 218.9L269.3 220.5L270.4 222.2L271.5 223.9L272.5 225.6L273.5 227.3L274.5 229.0L275.4 230.6L276.3 232.3L277.1 234.0L278.0 235.7L278.7 237.4L279.5 239.1L280.2 240.8L280.8 242.5L281.5 244.2L282.1 245.9L282.6 247.6L283.1 249.3L283.6 251.0L284.1 252.7L284.5 254.4L284.9 256.1L285.2 257.8L285.5 259.5L285.8 261.2L286.0 262.9L286.2 264.7L286.4 266.4L286.5 268.1L286.6 269.8L286.7 271.5L286.7 273.2L286.7 274.9L286.6 276.6L286.6 278.3L286.4 280.0L286.3 281.7L286.1 283.5L285.9 285.2L285.6 286.9L285.3 288.6L285.0 290.3L284.6 292.0L284.2 293.7L283.7 295.4L283.3 297.1L282.7 298.8L282.2 300.5L281.6 302.2L281.0 303.9L280.3 305.6L279.6 307.3L278.9 309.0L278.1 310.7L277.3 312.4L276.4 314.1L275.6 315.8L274.6 317.5L273.7 319.2L272.7 320.9L271.6 322.6L270.6 324.2L269.5 325.9L268.3 327.6L267.1 329.3L265.9 331.0L264.6 332.6L263.3 334.3L262.0 336.0L260.6 337.7L259.1 339.3L257.7 341.0L256.2 342.6L254.6 344.3L253.0 346.0L251.4 347.6L249.7 349.3L248.0 350.9L246.2 352.6L244.4 354.2L242.6 355.9L240.7 357.5L238.7 359.1L236.7 360.8L234.7 362.4L232.6 364.0L230.5 365.7L228.3 367.3L226.1 368.9L223.8 370.5L221.5 372.1L219.1 373.7L216.7 375.3L214.2 376.9L211.7 378.5L209.1 380.1L206.5 381.7L203.8 383.3L201.1 384.9L198.3 386.4L195.4 388.0L192.5 389.6L189.5 391.1L186.5 392.7L183.4 394.2L180.2 395.7L177.0 397.3L173.7 398.8L170.4 400.3L167.0 401.8L163.5 403.3L159.9 404.8L156.3 406.3L152.6 407.8L148.8 409.3L145.0 410.7L141.1 412.2L137.1 413.6L133.0 415.0L128.9 416.4L124.6 417.8L120.3 419.2" stroke="#000" stroke-width="3.5" fill="none" clip-path="url(#pc)"/>
<ellipse cx="124.6" cy="273.2" rx="14.6" ry="9.2" fill="none" stroke="#000" stroke-width="2"/>
<path d="M124.6 263.2A13.6 10 0 0 0 124.6 283.2z" fill="#000"/>
<rect x="124.6" y="1.5" width="378.9" height="543.4" fill="none" stroke="#000" stroke-width="3"/>
<text transform="translate(123.6,589.8) scale(1.08,1)" text-anchor="middle" class="ax">0</text>
<text transform="translate(199.4,589.8) scale(1.08,1)" text-anchor="middle" class="ax">5</text>
<text transform="translate(276.8,589.8) scale(1.08,1)" text-anchor="middle" class="ax">10</text>
<text transform="translate(352.5,589.8) scale(1.08,1)" text-anchor="middle" class="ax">15</text>
<text transform="translate(428.3,589.8) scale(1.08,1)" text-anchor="middle" class="ax">20</text>
<text transform="translate(504.1,589.8) scale(1.08,1)" text-anchor="middle" class="ax">25</text>
<text transform="translate(115.2,22.4) scale(1.08,1)" text-anchor="end" class="ax">30</text>
<text transform="translate(115.2,104.6) scale(1.08,1)" text-anchor="end" class="ax">20</text>
<text transform="translate(115.2,195.1) scale(1.08,1)" text-anchor="end" class="ax">10</text>
<text transform="translate(115.2,285.7) scale(1.08,1)" text-anchor="end" class="ax">0</text>
<text transform="translate(115.2,376.3) scale(1.08,1)" class="ax"><tspan x="-56.7" dy="1.6">−</tspan><tspan x="0" dy="-1.6" text-anchor="end">10</tspan></text>
<text transform="translate(115.2,466.8) scale(1.08,1)" class="ax"><tspan x="-56.7" dy="1.6">−</tspan><tspan x="0" dy="-1.6" text-anchor="end">20</tspan></text>
<text transform="translate(115.2,547.2) scale(1.08,1)" class="ax"><tspan x="-56.7" dy="1.6">−</tspan><tspan x="0" dy="-1.6" text-anchor="end">30</tspan></text>
<text x="245.3" y="626" class="ax" textLength="18.5" lengthAdjust="spacingAndGlyphs">X</text>
<text x="264" y="633" class="sub">MIPM</text>
<text x="319.5" y="626" class="ax">(Re)</text>
<g transform="translate(25.5,345.3) rotate(-90)"><text x="0" y="0" class="ax" textLength="19" lengthAdjust="spacingAndGlyphs">Y</text><text x="21" y="7.1" class="sub">MIPM</text><text x="73.5" y="0" class="ax">(Re)</text></g>
<rect x="452.9" y="14.7" width="30.9" height="250.6" fill="url(#cb)" stroke="#000" stroke-width="2"/>
<path d="M452.9 249.6h8.6M452.9 182.8h8.6M452.9 116.0h8.6M452.9 49.2h8.6M452.9 216.2h4.6M452.9 149.4h4.6M452.9 82.6h4.6" stroke="#000" stroke-width="2" fill="none"/>
<text x="448.3" y="256.0" text-anchor="end" class="cbl">80</text>
<text x="448.3" y="189.2" text-anchor="end" class="cbl">100</text>
<text x="448.3" y="122.4" text-anchor="end" class="cbl">120</text>
<text x="448.3" y="55.6" text-anchor="end" class="cbl">140</text>
<text transform="translate(407,245.3) rotate(-90)" class="cbt"><tspan x="0" textLength="29.2" lengthAdjust="spacingAndGlyphs">Total</tspan> <tspan x="37.6" textLength="28.2" lengthAdjust="spacingAndGlyphs">ion</tspan> <tspan x="72.6" textLength="97" lengthAdjust="spacingAndGlyphs">temperature</tspan> <tspan x="175.6" textLength="31" lengthAdjust="spacingAndGlyphs">(eV)</tspan></text>
</svg></body></html>
